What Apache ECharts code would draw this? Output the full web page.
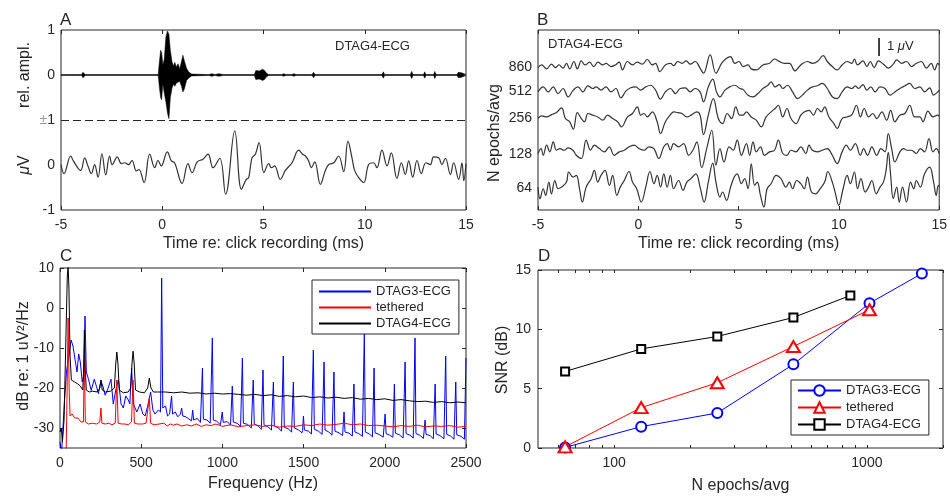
<!DOCTYPE html>
<html><head><meta charset="utf-8">
<script src="https://cdn.jsdelivr.net/npm/echarts@6/dist/echarts.min.js"></script>
<style>html,body{margin:0;padding:0;background:#fff}#c{width:950px;height:496px}</style>
</head><body><div id="c"></div><script>
// ---------------- DATA ----------------
// Panel A (top): click waveform envelope [time ms, upper, lower] (rel. ampl.)
const clickEnvelope = [
[-5.00,0.01,-0.01],[-4.78,0.01,-0.01],[-4.72,0.05,-0.05],[-4.66,0.01,-0.01],[-4.28,0.01,-0.01],[-4.23,0.05,-0.05],[-4.18,0.01,-0.01],[-3.98,0.01,-0.01],[-3.92,0.06,-0.06],[-3.86,0.05,-0.05],[-3.80,0.01,-0.01],[-0.20,0.01,-0.01],[-0.14,0.30,-0.28],[-0.08,0.55,-0.50],[-0.03,0.50,-0.55],[0.03,0.22,-0.20],[0.10,0.35,-0.40],[0.18,0.85,-0.60],[0.26,0.98,-0.85],[0.33,0.90,-0.97],[0.40,0.55,-0.50],[0.48,0.30,-0.30],[0.55,0.20,-0.20],[0.62,0.28,-0.25],[0.70,0.18,-0.18],[0.78,0.25,-0.18],[0.86,0.14,-0.14],[0.95,0.30,-0.25],[1.02,0.44,-0.38],[1.10,0.30,-0.30],[1.20,0.15,-0.12],[1.30,0.07,-0.07],[1.45,0.02,-0.02],[2.30,0.01,-0.01],[2.45,0.03,-0.03],[2.60,0.01,-0.01],[2.80,0.03,-0.03],[3.00,0.01,-0.01],[4.55,0.01,-0.01],[4.62,0.10,-0.10],[4.70,0.13,-0.13],[4.80,0.09,-0.09],[4.88,0.12,-0.12],[4.95,0.13,-0.12],[5.05,0.10,-0.10],[5.15,0.04,-0.04],[5.25,0.01,-0.01],[5.90,0.01,-0.01],[6.00,0.03,-0.03],[6.10,0.01,-0.01],[6.40,0.01,-0.01],[6.50,0.03,-0.03],[6.60,0.01,-0.01],[7.40,0.01,-0.01],[7.47,0.06,-0.06],[7.55,0.01,-0.01],[10.85,0.01,-0.01],[10.92,0.07,-0.07],[10.98,0.01,-0.01],[12.25,0.01,-0.01],[12.32,0.08,-0.08],[12.38,0.01,-0.01],[12.90,0.01,-0.01],[12.96,0.07,-0.07],[13.02,0.01,-0.01],[13.40,0.01,-0.01],[13.46,0.08,-0.08],[13.52,0.01,-0.01],[14.55,0.01,-0.01],[14.62,0.06,-0.06],[14.70,0.06,-0.06],[14.78,0.05,-0.05],[14.86,0.01,-0.01],[15.00,0.01,-0.01]
];
// Panel A (bottom): averaged ECG response [time ms, µV]
const avgResponse = [
[-5.00,0.01],[-4.85,-0.19],[-4.52,0.20],[-4.39,0.09],[-4.03,-0.12],[-3.83,0.16],[-3.67,-0.02],[-3.50,-0.19],[-3.34,0.01],[-3.17,-0.27],[-2.98,0.25],[-2.79,-0.22],[-2.60,0.20],[-2.47,0.01],[-2.22,0.18],[-2.02,0.03],[-1.86,0.05],[-1.66,0.01],[-1.49,0.10],[-1.28,-0.13],[-1.15,-0.10],[-0.90,-0.39],[-0.62,0.24],[-0.37,-0.06],[-0.21,0.10],[-0.05,-0.02],[0.25,0.29],[0.45,0.09],[0.61,0.05],[0.98,-0.41],[1.27,0.03],[1.47,-0.17],[1.73,0.07],[2.01,0.13],[2.26,0.24],[2.51,-0.06],[2.84,0.15],[3.13,-0.65],[3.58,0.76],[3.91,-0.54],[4.15,-0.32],[4.27,-0.28],[4.43,0.16],[4.60,0.24],[4.78,0.50],[5.02,-0.17],[5.26,0.03],[5.39,-0.06],[5.55,-0.02],[5.83,-0.32],[6.08,-0.12],[6.41,0.05],[6.74,0.33],[6.93,0.24],[7.07,0.20],[7.23,0.09],[7.36,-0.06],[7.53,0.07],[7.81,-0.43],[8.05,-0.13],[8.22,0.01],[8.47,0.05],[8.71,0.20],[8.96,-0.15],[9.17,0.53],[9.37,0.16],[9.50,-0.12],[9.70,-0.28],[9.95,-0.39],[10.19,0.01],[10.44,0.05],[10.60,-0.06],[10.85,0.33],[11.10,-0.02],[11.31,0.27],[11.59,-0.30],[11.81,0.05],[12.00,-0.21],[12.17,0.09],[12.37,-0.27],[12.58,0.10],[12.79,-0.19],[13.02,0.05],[13.24,0.01],[13.40,0.18],[13.65,0.16],[13.81,0.01],[13.98,0.15],[14.23,-0.21],[14.39,0.05],[14.64,-0.32],[14.80,0.05],[14.89,-0.35],[15.00,0.03]
];
const aYTickLabels = ['-1','0','±1','0','1'];   // for axis values -2..2
const aTopCentre = 1, aBottomCentre = -1;

// Panel B: averaged traces [time ms, µV] per N epochs
const bLabels = ['64','128','256','512','860'];
const bOffsets = [1.2, 3.1, 5.1, 6.6, 7.95];   // µV baseline of each trace
const trace64 = [
[-5.0,0.07],[-4.90,-0.57],[-4.74,-0.02],[-4.62,-0.39],[-4.46,0.35],[-4.33,-0.30],[-4.16,0.44],[-4.0,-0.02],[-3.83,0.07],[-3.58,0.35],[-3.47,0.91],[-3.25,0.63],[-3.09,0.72],[-2.93,-0.02],[-2.79,-0.76],[-2.60,0.07],[-2.35,0.54],[-2.19,1.0],[-2.02,0.35],[-1.86,0.72],[-1.66,1.0],[-1.44,0.17],[-1.28,0.72],[-1.07,-0.39],[-0.90,0.07],[-0.70,0.44],[-0.46,0.94],[-0.29,0.35],[-0.08,-0.02],[0.15,-0.76],[0.37,0.07],[0.58,0.94],[0.78,0.26],[0.94,0.72],[1.11,0.07],[1.27,0.81],[1.44,0.07],[1.60,0.72],[1.76,-0.02],[2.01,0.44],[2.23,-0.11],[2.42,0.35],[2.62,0.54],[2.87,0.81],[3.08,0.07],[3.28,-0.76],[3.49,0.35],[3.71,1.4],[3.87,0.35],[4.07,-0.48],[4.20,-0.20],[4.40,-0.67],[4.60,0.07],[4.78,0.63],[4.93,0.81],[5.14,0.26],[5.30,0.54],[5.47,-0.02],[5.63,1.37],[5.80,0.17],[5.93,0.35],[6.09,-0.39],[6.26,-1.04],[6.42,-0.02],[6.62,0.26],[6.87,0.72],[7.11,0.54],[7.36,0.07],[7.53,0.35],[7.69,-0.02],[7.90,0.44],[8.10,0.26],[8.27,-0.02],[8.43,0.63],[8.63,-0.20],[8.84,-0.30],[9.06,-0.02],[9.29,0.35],[9.45,0.94],[9.67,0.35],[9.83,-0.30],[9.99,-0.94],[10.21,-0.02],[10.41,0.72],[10.57,0.26],[10.77,0.91],[10.93,-0.02],[11.10,0.54],[11.31,-0.20],[11.48,0.07],[11.64,0.44],[11.86,-0.30],[12.05,0.07],[12.22,0.35],[12.35,1.0],[12.46,2.0],[12.58,0.72],[12.71,-0.57],[12.88,0.07],[13.01,-0.76],[13.17,0.07],[13.37,-0.76],[13.57,0.35],[13.73,-0.02],[13.86,0.44],[14.06,0.07],[14.27,0.81],[14.52,1.18],[14.72,0.35],[14.85,-0.39],[14.95,0.17],[15.0,0.1]
];
const trace128 = [
[-5.0,0.04],[-4.85,0.31],[-4.74,-0.06],[-4.57,0.5],[-4.41,0.13],[-4.24,0.69],[-4.08,0.22],[-3.91,0.31],[-3.70,0.22],[-3.50,0.35],[-3.26,0.22],[-3.09,-0.06],[-2.84,-0.24],[-2.60,0.78],[-2.38,0.22],[-2.19,0.5],[-1.94,0.31],[-1.69,0.13],[-1.45,0.41],[-1.20,-0.06],[-0.95,0.13],[-0.70,0.22],[-0.46,0.41],[-0.21,0.5],[0.04,0.31],[0.28,0.22],[0.53,0.41],[0.78,0.31],[1.02,-0.24],[1.27,0.41],[1.44,0.59],[1.60,0.22],[1.76,0.59],[2.01,0.41],[2.26,0.59],[2.51,-0.06],[2.72,0.22],[2.92,0.69],[3.16,-0.75],[3.41,0.31],[3.66,1.33],[3.87,-0.61],[4.07,0.31],[4.27,-0.43],[4.53,0.41],[4.73,0.22],[4.93,0.78],[5.14,-0.06],[5.39,0.59],[5.55,-0.06],[5.72,0.69],[5.88,0.13],[6.09,0.41],[6.29,-0.06],[6.54,0.13],[6.79,0.22],[6.98,0.78],[7.20,0.04],[7.41,-0.06],[7.61,0.22],[7.86,0.13],[8.10,0.41],[8.35,0.04],[8.51,0.50],[8.68,0.22],[8.93,0.13],[9.17,0.22],[9.42,0.31],[9.67,-0.06],[9.91,-0.52],[10.16,0.13],[10.37,0.50],[10.57,0.22],[10.82,0.59],[11.07,-0.06],[11.23,0.31],[11.43,-0.06],[11.64,0.41],[11.89,-0.06],[12.09,0.31],[12.30,0.13],[12.46,1.15],[12.63,0.31],[12.79,-0.43],[13.04,0.13],[13.21,0.31],[13.40,0.22],[13.62,0.22],[13.86,0.04],[14.06,0.31],[14.27,0.13],[14.49,0.87],[14.69,0.13],[14.85,0.31],[15.0,0.04]
];
const trace256 = [
[-5.0,-0.02],[-4.82,0.13],[-4.57,0.07],[-4.32,0.2],[-4.08,0.31],[-3.83,0.57],[-3.63,-0.02],[-3.42,-0.20],[-3.24,-0.61],[-3.04,0.31],[-2.84,-0.02],[-2.68,-0.20],[-2.51,0.26],[-2.27,0.17],[-2.02,0.07],[-1.77,-0.11],[-1.53,0.17],[-1.28,-0.02],[-1.03,-0.20],[-0.84,-0.48],[-0.54,0.07],[-0.29,0.26],[-0.05,0.63],[0.12,0.17],[0.28,0.26],[0.45,0.07],[0.70,0.35],[0.94,-0.20],[1.11,-0.85],[1.35,-0.20],[1.60,0.2],[1.77,0.35],[1.96,0.31],[2.18,0.26],[2.42,0.07],[2.67,0.2],[2.92,0.35],[3.08,0.17],[3.25,-0.91],[3.49,0.17],[3.74,1.09],[3.99,-0.02],[4.20,-0.30],[4.43,0.26],[4.65,-0.02],[4.86,0.63],[5.06,0.17],[5.22,0.17],[5.39,0.35],[5.63,0.07],[5.88,-0.11],[6.13,-0.48],[6.37,0.07],[6.62,0.35],[6.82,0.54],[6.98,0.72],[7.20,0.07],[7.41,0.54],[7.61,-0.02],[7.86,-0.30],[8.10,0.17],[8.27,0.35],[8.51,0.44],[8.73,0.17],[8.93,0.54],[9.12,0.35],[9.29,0.63],[9.50,0.07],[9.75,-0.30],[9.91,-0.57],[10.16,-0.02],[10.41,0.07],[10.65,0.2],[10.87,0.72],[11.07,0.07],[11.26,0.54],[11.48,0.07],[11.69,0.26],[11.89,-0.02],[12.14,0.35],[12.38,-0.11],[12.58,0.44],[12.79,-0.20],[13.04,0.17],[13.29,0.26],[13.53,0.72],[13.78,0.07],[14.03,0.07],[14.19,-0.20],[14.44,0.39],[14.69,0.07],[14.93,0.17],[15.0,0.1]
];
const trace512 = [
[-5.0,-0.04],[-4.74,0.24],[-4.49,-0.04],[-4.24,0.24],[-4.0,-0.13],[-3.75,0.15],[-3.50,-0.31],[-3.24,0.06],[-3.01,0.24],[-2.76,-0.04],[-2.52,0.30],[-2.27,0.15],[-2.10,0.24],[-1.86,0.06],[-1.61,0.24],[-1.36,-0.04],[-1.12,0.15],[-0.87,-0.37],[-0.62,0.0],[-0.38,0.19],[-0.13,0.24],[0.12,0.06],[0.37,0.24],[0.61,0.33],[0.86,0.06],[1.10,-0.44],[1.35,-0.04],[1.60,0.15],[1.85,-0.13],[2.09,0.15],[2.34,0.19],[2.59,-0.04],[2.83,0.15],[3.08,-0.04],[3.25,-0.59],[3.49,0.24],[3.71,0.67],[3.90,-0.04],[4.07,-0.31],[4.32,0.06],[4.56,0.24],[4.81,0.33],[5.06,0.15],[5.22,0.10],[5.47,-0.22],[5.72,-0.31],[5.96,-0.13],[6.21,0.15],[6.46,0.33],[6.62,0.52],[6.82,0.24],[7.03,0.37],[7.20,0.15],[7.44,0.33],[7.69,-0.04],[7.94,-0.41],[8.18,-0.22],[8.43,0.06],[8.68,0.24],[8.93,0.30],[9.17,0.43],[9.42,0.15],[9.67,-0.31],[9.91,-0.41],[10.16,-0.04],[10.41,0.24],[10.65,0.15],[10.82,0.30],[10.98,0.15],[11.20,0.37],[11.39,0.06],[11.59,0.24],[11.81,-0.04],[12.05,0.24],[12.30,0.15],[12.55,-0.22],[12.79,-0.04],[13.04,0.15],[13.29,0.30],[13.53,0.43],[13.78,0.15],[14.03,0.24],[14.28,-0.04],[14.52,0.19],[14.72,-0.22],[14.93,-0.04],[15.0,0.05]
];
const trace860 = [
[-5.0,-0.04],[-4.82,0.11],[-4.57,-0.11],[-4.33,0.15],[-4.13,-0.04],[-3.96,0.11],[-3.75,-0.07],[-3.58,0.2],[-3.42,-0.11],[-3.21,0.30],[-3.04,-0.11],[-2.84,0.33],[-2.65,0.11],[-2.43,0.26],[-2.22,0.02],[-2.02,0.26],[-1.77,0.11],[-1.61,0.2],[-1.36,0.02],[-1.15,0.11],[-0.95,0.26],[-0.79,-0.17],[-0.54,0.30],[-0.29,0.11],[-0.05,0.26],[0.20,0.15],[0.45,0.41],[0.70,0.11],[0.86,0.2],[1.07,-0.26],[1.35,0.11],[1.60,0.2],[1.77,0.07],[1.96,0.30],[2.18,0.2],[2.39,0.33],[2.59,0.15],[2.84,0.30],[3.08,-0.07],[3.25,-0.35],[3.58,0.67],[3.87,-0.35],[4.15,0.2],[4.40,0.48],[4.60,0.57],[4.81,0.2],[5.02,0.30],[5.22,0.02],[5.47,0.11],[5.63,-0.11],[5.88,-0.17],[6.21,0.11],[6.54,0.2],[6.79,0.44],[7.03,0.30],[7.28,0.2],[7.53,0.2],[7.81,-0.22],[8.10,0.11],[8.43,0.30],[8.68,0.2],[8.93,0.30],[9.22,0.63],[9.42,0.30],[9.67,0.02],[9.91,-0.17],[10.16,0.11],[10.41,0.30],[10.65,0.2],[10.77,0.44],[10.93,0.11],[11.20,0.33],[11.40,0.02],[11.56,0.30],[11.76,-0.04],[11.97,0.33],[12.22,0.15],[12.47,-0.07],[12.71,0.15],[12.88,0.39],[13.12,0.2],[13.37,0.30],[13.62,0.02],[13.86,0.2],[14.11,0.30],[14.36,-0.07],[14.60,0.2],[14.77,-0.17],[14.93,0.2],[15.0,0.1]
];
const bTraces = [trace64, trace128, trace256, trace512, trace860];
const scaleBarTime = 12, scaleBarBottom = 8.55, scaleBarMicroV = 1;

// Panel C: spectra [frequency Hz, dB re 1 uV^2/Hz]
const specDtag3 = [
[0,-33.5],[10,-36],[27,-23.5],[41,-15.5],[55,-12],[68,-8],[80,-9.5],[95,-13.5],[105,-16],[115,-11.5],[125,-13.5],[137,-18.5],[146,-17],[154,-2],[162,-16],[175,-17.7],[192,-20.6],[211,-17.8],[225,-19.7],[237,-21.4],[252,-18.1],[265,-19.7],[278,-21.8],[295,-20.2],[314,-17.8],[328,-24],[345,-20.2],[360,-18],[376,-24],[390,-25],[405,-22],[421,-23],[430,-24],[441,-15],[452,-24],[473,-26],[493,-24],[510,-26.5],[524,-27],[540,-24.5],[558,-21],[572,-25.5],[585,-26.5],[606,-25.5],[619,-26],[626,7.5],[633,-25],[650,-24.5],[662,-27],[675,-26.5],[681,-26],[687,-22],[693,-26.5],[710,-26],[725,-27.2],[742,-26.5],[749,-25],[756,-27],[775,-27.2],[795,-27.8],[810,-28.2],[817,-25.5],[823,-28],[845,-27.6],[865,-28.6],[871,-28.4],[877,-15],[883,-27.8],[905,-28],[925,-28.8],[932,-28.8],[938,-7.5],[944,-28],[965,-28.3],[988,-29.2],[994,-29],[999,-26],[1005,-28.6],[1030,-28.4],[1050,-29.3],[1056,-29.2],[1061,-19.5],[1067,-28.5],[1090,-28.8],[1112,-29.6],[1118,-29.4],[1123,-12.5],[1129,-28.8],[1155,-29.1],[1178,-30],[1184,-29.8],[1190,-18],[1196,-29],[1220,-29.5],[1240,-30.3],[1245,-30.1],[1250,-15.5],[1256,-29.2],[1280,-29.7],[1302,-30.5],[1308,-30.3],[1314,-18.5],[1320,-29.5],[1345,-30],[1364,-30.8],[1370,-30.6],[1375,-12],[1381,-29.8],[1405,-30.2],[1426,-31],[1432,-30.8],[1437,-18.5],[1443,-30],[1470,-30.5],[1490,-31.2],[1494,-30.6],[1499,-27],[1505,-30.5],[1530,-30.8],[1548,-31.5],[1554,-31.2],[1560,-10.5],[1566,-30.3],[1592,-30.8],[1614,-31.6],[1620,-31.3],[1626,-13.5],[1632,-30.5],[1655,-31],[1675,-31.8],[1681,-31.5],[1687,-16],[1693,-30.8],[1718,-31.2],[1740,-31.9],[1744,-31.5],[1749,-26],[1755,-31],[1780,-31.3],[1800,-32],[1805,-31.7],[1810,-19],[1816,-31],[1840,-31.4],[1862,-32.1],[1868,-31.8],[1874,-6.5],[1880,-31],[1905,-31.5],[1924,-32.2],[1929,-31.9],[1934,-15],[1940,-31.2],[1965,-31.6],[1990,-32.3],[1996,-32],[2002,-26.5],[2008,-31.4],[2030,-31.8],[2050,-32.3],[2054,-32],[2059,-19],[2065,-31.3],[2090,-31.7],[2113,-32.5],[2119,-32.2],[2125,-13.5],[2131,-31.4],[2155,-31.8],[2175,-32.5],[2180,-32.2],[2186,-7.5],[2192,-31.4],[2215,-31.8],[2238,-32.6],[2243,-32.2],[2248,-28],[2254,-31.6],[2280,-31.9],[2299,-32.7],[2304,-32.3],[2310,-19],[2316,-31.5],[2340,-31.9],[2364,-32.7],[2369,-32.4],[2375,-12],[2381,-31.6],[2405,-32],[2426,-32.8],[2431,-32.4],[2437,-18.5],[2443,-31.7],[2470,-32.1],[2490,-32.8],[2495,-32.4],[2500,-12.5]
];
const specTethered = [
[38,-36],[44,-20],[50,-2.5],[56,-20],[62,-27],[75,-26.5],[90,-27.5],[110,-27.5],[130,-28.5],[144,-28.5],[150,-13],[156,-28.5],[175,-29],[200,-28.8],[225,-29],[245,-28.5],[252,-25],[258,-28.8],[280,-29],[300,-28.8],[320,-29.2],[340,-28.8],[350,-18],[358,-28.8],[380,-29],[400,-29],[420,-29.2],[440,-28.5],[450,-18],[458,-28.8],[480,-29],[510,-29],[530,-28.8],[550,-22.5],[558,-28.8],[580,-29.2],[610,-29],[640,-28.8],[660,-29.5],[680,-29],[700,-29.3],[720,-29],[750,-29.5],[780,-29.2],[810,-29.5],[840,-29],[870,-29.6],[900,-29.2],[930,-29.4],[960,-29],[1000,-29.6],[1050,-29.2],[1100,-29.7],[1150,-29.4],[1200,-29.2],[1250,-29.6],[1300,-29.3],[1350,-29.8],[1400,-29.5],[1450,-29.6],[1500,-29.2],[1550,-29.4],[1600,-29],[1650,-29.3],[1700,-29.1],[1750,-28.8],[1800,-29.2],[1850,-29],[1900,-29.4],[1950,-29.3],[2000,-29.5],[2050,-29.7],[2100,-29.4],[2150,-29.6],[2200,-29.3],[2250,-29.7],[2300,-29.5],[2350,-29.6],[2400,-29.4],[2450,-29.8],[2500,-29.6]
];
const specDtag4 = [
[0,-31],[8,-30],[15,-33.5],[25,-28],[35,-10],[45,8],[50,10.5],[55,5],[62,-12],[70,-18],[90,-18.5],[110,-19],[125,-19.5],[140,-20.5],[146,-15],[150,-5.5],[155,-15],[162,-20.5],[180,-21],[200,-20.8],[230,-21],[245,-20],[252,-18],[260,-20.5],[280,-21],[310,-20.8],[335,-20],[343,-14],[350,-11],[357,-14],[365,-20.5],[390,-21.2],[420,-21],[435,-20],[443,-14],[450,-10.8],[457,-14],[465,-20.5],[490,-21],[520,-21.2],[540,-20],[550,-17.5],[560,-20],[575,-21],[600,-21],[650,-21],[700,-21.2],[750,-21],[800,-21.3],[850,-21.2],[900,-21.5],[950,-21.3],[1000,-21.5],[1050,-21.4],[1100,-21.6],[1150,-21.8],[1200,-21.6],[1250,-21.9],[1300,-21.7],[1350,-22.1],[1400,-21.9],[1450,-22.2],[1500,-22],[1550,-22.4],[1600,-22.2],[1650,-22.5],[1700,-22.3],[1750,-22.6],[1800,-22.4],[1850,-22.8],[1900,-22.6],[1950,-22.9],[2000,-22.7],[2050,-23.1],[2100,-22.9],[2150,-23.2],[2200,-23.4],[2250,-23.3],[2300,-23.6],[2350,-23.4],[2400,-23.7],[2450,-23.5],[2500,-23.7]
];
const cYTicks = [-30,-20,-10,0,10];

// Panel D: SNR vs N epochs
const epochsDtag3 = [64,128,256,512,1024,1650];
const snrDtag3    = [0.05,1.8,2.95,7.05,12.2,14.7];
const epochsTethered = [64,128,256,512,1024];
const snrTethered    = [0.1,3.4,5.5,8.55,11.65];
const epochsDtag4 = [64,128,256,512,860];
const snrDtag4    = [6.45,8.35,9.4,11.0,12.85];
const dXLabels = [100,1000];
const dXTicks = [60,70,80,90,100,200,300,400,500,600,700,800,900,1000,2000];
const seriesNames = ['DTAG3-ECG','tethered','DTAG4-ECG'];

// ---------------- CHART ----------------
const FONT = "'Liberation Sans', Arial, Helvetica, sans-serif";
const TXT = '#262626';
const chart = echarts.init(document.getElementById('c'));
const tick = (len) => ({show:true, inside:true, length:len, lineStyle:{color:TXT, width:1}});
const lbl = (extra) => Object.assign({color:TXT, fontFamily:FONT, fontSize:14}, extra||{});
const noLine = {show:false, onZero:false};
const muRich = {mu:{fontFamily:FONT, fontStyle:'italic', fill:TXT}};

const grids = [
  {left:61, top:30, width:405, height:180},
  {left:538, top:30, width:405, height:180},
  {left:60, top:268, width:406, height:180},
  {left:538, top:270, width:405, height:178}
].map(g => Object.assign(g, {show:true, borderColor:TXT, borderWidth:1, backgroundColor:'#fff'}));

function timeAxes(gi) {
  return [
    {gridIndex:gi, type:'value', min:-5, max:15, interval:5, axisLine:noLine, axisTick:tick(4), splitLine:{show:false},
     axisLabel:lbl({margin:8}), name:'Time re: click recording (ms)', nameLocation:'middle', nameGap:26,
     nameTextStyle:{color:TXT, fontFamily:FONT, fontSize:16}},
    {gridIndex:gi, type:'value', position:'top', min:-5, max:15, interval:5, axisLine:noLine, axisTick:tick(4), splitLine:{show:false}, axisLabel:{show:false}}
  ];
}
const xAxes = [].concat(timeAxes(0), timeAxes(1), [
  {gridIndex:2, type:'value', min:0, max:2500, interval:500, axisLine:noLine, axisTick:tick(4), splitLine:{show:false},
   axisLabel:lbl({margin:8, formatter:v=>String(v)}), name:'Frequency (Hz)', nameLocation:'middle', nameGap:28,
   nameTextStyle:{color:TXT, fontFamily:FONT, fontSize:16}},
  {gridIndex:2, type:'value', position:'top', min:0, max:2500, interval:500, axisLine:noLine, axisTick:tick(4), splitLine:{show:false}, axisLabel:{show:false}},
  {gridIndex:3, type:'log', logBase:10, min:50, max:2000, axisLine:noLine, splitLine:{show:false},
   axisTick:Object.assign(tick(3), {customValues:dXTicks}),
   axisLabel:lbl({margin:8, customValues:dXLabels, formatter:v=>String(Math.round(v))}),
   name:'N epochs/avg', nameLocation:'middle', nameGap:30, nameTextStyle:{color:TXT, fontFamily:FONT, fontSize:16}},
  {gridIndex:3, type:'log', logBase:10, position:'top', min:50, max:2000, axisLine:noLine, splitLine:{show:false},
   axisTick:Object.assign(tick(3), {customValues:dXTicks}), axisLabel:{show:false}}
]);
const yAxes = [
  {gridIndex:0, type:'value', min:-2, max:2, interval:1, axisLine:noLine, axisTick:{show:false}, splitLine:{show:false},
   axisLabel:lbl({margin:6, formatter:v=>{const s=aYTickLabels[Math.round(v)+2]; return s==='±1' ? '{pm|±}1' : s;},
     rich:{pm:{color:'#9a9a9a', fontFamily:FONT, fontSize:14}}})},
  {gridIndex:1, type:'value', min:0, max:10, axisLine:noLine, axisTick:{show:false}, splitLine:{show:false},
   axisLabel:lbl({margin:6, customValues:bOffsets, formatter:v=>{const i=bOffsets.findIndex(o=>Math.abs(o-v)<1e-6); return i>=0?bLabels[i]:'';}})},
  {gridIndex:2, type:'value', min:-35, max:10, axisLine:noLine, splitLine:{show:false},
   axisTick:Object.assign(tick(4), {customValues:cYTicks}), axisLabel:lbl({margin:6, customValues:cYTicks})},
  {gridIndex:2, type:'value', position:'right', min:-35, max:10, axisLine:noLine, splitLine:{show:false},
   axisTick:Object.assign(tick(4), {customValues:cYTicks}), axisLabel:{show:false}},
  {gridIndex:3, type:'value', min:0, max:15, interval:5, axisLine:noLine, splitLine:{show:false}, axisTick:tick(4), axisLabel:lbl({margin:7})},
  {gridIndex:3, type:'value', position:'right', min:0, max:15, interval:5, axisLine:noLine, splitLine:{show:false}, axisTick:tick(4), axisLabel:{show:false}}
];

const series = [];
// Panel A top: click envelope
series.push({type:'line', xAxisIndex:0, yAxisIndex:0, symbol:'none', silent:true, z:3,
  data: clickEnvelope.map(p=>[p[0], aTopCentre+p[1]]), lineStyle:{color:'#000', width:0.5},
  areaStyle:{color:'#000', opacity:1, origin:aTopCentre}});
series.push({type:'line', xAxisIndex:0, yAxisIndex:0, symbol:'none', silent:true, z:3,
  data: clickEnvelope.map(p=>[p[0], aTopCentre+p[2]]), lineStyle:{color:'#000', width:0.5},
  areaStyle:{color:'#000', opacity:1, origin:aTopCentre}});
// Panel A bottom
series.push({type:'line', xAxisIndex:0, yAxisIndex:0, symbol:'none', smooth:0.4, silent:true,
  data: avgResponse.map(p=>[p[0], aBottomCentre+p[1]]), lineStyle:{color:'#333', width:1.2},
  markLine:{silent:true, symbol:'none', label:{show:false}, lineStyle:{color:TXT, width:1, type:[8,4]}, data:[{yAxis:0}]}});
// Panel B
bTraces.forEach((tr, i) => {
  series.push({type:'line', xAxisIndex:2, yAxisIndex:1, symbol:'none', smooth:0.4, silent:true,
    data: tr.map(p=>[p[0], bOffsets[i]+p[1]]), lineStyle:{color:'#333', width:1.2}});
});
series.push({type:'line', xAxisIndex:2, yAxisIndex:1, symbol:'none', silent:true,
  data:[[scaleBarTime, scaleBarBottom],[scaleBarTime, scaleBarBottom+scaleBarMicroV]], lineStyle:{color:'#111', width:1.6}});
// Panel C
const cCols = ['#0000ff','#ff0000','#000000'];
[specDtag3, specTethered, specDtag4].forEach((sp, i) => {
  series.push({type:'line', name:seriesNames[i], xAxisIndex:4, yAxisIndex:2, symbol:'none', silent:true,
    data: sp, lineStyle:{color:cCols[i], width:1}, itemStyle:{color:cCols[i]}});
});
// Panel D
const dSets = [[epochsDtag3, snrDtag3, 'emptyCircle', 10], [epochsTethered, snrTethered, 'emptyTriangle', [13,11]], [epochsDtag4, snrDtag4, 'emptyRect', 8]];
dSets.forEach((s, i) => {
  series.push({type:'line', name:'D|'+seriesNames[i], xAxisIndex:6, yAxisIndex:4, symbol:s[2], symbolSize:s[3], silent:true,
    data: s[0].map((x,k)=>[x, s[1][k]]), lineStyle:{color:cCols[i], width:1}, itemStyle:{color:cCols[i], borderWidth:1}});
});

const legendText = {color:TXT, fontFamily:FONT, fontSize:13};
const option = {
  animation:false,
  backgroundColor:'#fff',
  grid: grids,
  xAxis: xAxes,
  yAxis: yAxes,
  series: series,
  legend: [
    {data:seriesNames, left:312, top:280, orient:'vertical', itemWidth:52, itemHeight:14, itemGap:3, selectedMode:false,
     padding:[5,8,4,6], borderColor:TXT, borderWidth:1, backgroundColor:'#fff', borderRadius:0, textStyle:legendText,
     itemStyle:{opacity:0}},
    {data:seriesNames.map(n=>'D|'+n), left:791, top:380, orient:'vertical', itemWidth:43, itemHeight:13, itemGap:4, selectedMode:false,
     padding:[4,8,4,6], borderColor:TXT, borderWidth:1, backgroundColor:'#fff', borderRadius:0, textStyle:legendText,
     formatter:n=>n.split('|')[1]}
  ],
  graphic: [
    {type:'text', left:60, top:12, style:{text:'A', font:'17px '+FONT, fill:TXT}},
    {type:'text', left:537, top:12, style:{text:'B', font:'17px '+FONT, fill:TXT}},
    {type:'text', left:60, top:248, style:{text:'C', font:'17px '+FONT, fill:TXT}},
    {type:'text', left:538, top:248, style:{text:'D', font:'17px '+FONT, fill:TXT}},
    {type:'text', left:335, top:40, style:{text:'DTAG4-ECG', font:'13px '+FONT, fill:TXT}},
    {type:'text', left:548, top:38, style:{text:'DTAG4-ECG', font:'13px '+FONT, fill:TXT}},
    {type:'text', left:887, top:40, style:{text:'1 {mu|μ}V', font:'13px '+FONT, fill:TXT, rich:{mu:{font:'italic 13px '+FONT, fill:TXT}}}},
    {type:'text', x:25, y:75, rotation:Math.PI/2, style:{text:'rel. ampl.', font:'16px '+FONT, fill:TXT, align:'center', verticalAlign:'middle'}},
    {type:'text', x:25, y:165, rotation:Math.PI/2, style:{text:'{mu|μ}V', font:'16px '+FONT, fill:TXT, align:'center', verticalAlign:'middle', rich:{mu:{font:'italic 16px '+FONT, fill:TXT}}}},
    {type:'text', x:495, y:133, rotation:Math.PI/2, style:{text:'N epochs/avg', font:'16px '+FONT, fill:TXT, align:'center', verticalAlign:'middle'}},
    {type:'text', x:24, y:356, rotation:Math.PI/2, style:{text:'dB re: 1 uV²/Hz', font:'16px '+FONT, fill:TXT, align:'center', verticalAlign:'middle'}},
    {type:'text', x:503, y:360, rotation:Math.PI/2, style:{text:'SNR (dB)', font:'16px '+FONT, fill:TXT, align:'center', verticalAlign:'middle'}}
  ]
};
chart.setOption(option);
</script></body></html>
